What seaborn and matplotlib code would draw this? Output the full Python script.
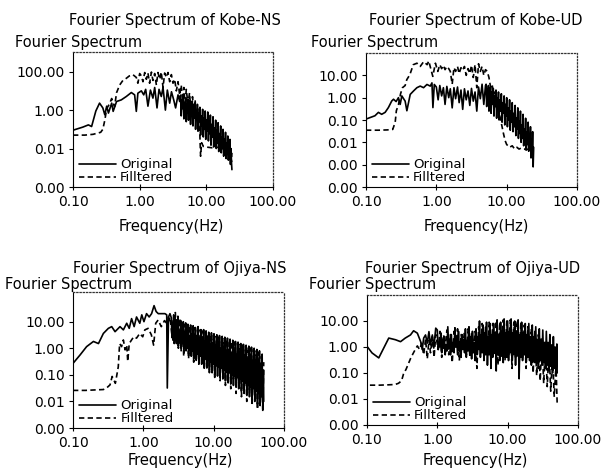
import numpy as np
import pandas as pd
import seaborn as sns
import matplotlib.pyplot as plt
from matplotlib.ticker import FixedLocator, FuncFormatter, NullLocator

sns.set_style('white')
plt.rcParams['font.family'] = ['DejaVu Sans', 'Noto Sans CJK JP']
plt.rcParams['text.color'] = 'black'

# shared high-frequency grid of the Kobe records (Hz)
kobe_f_high = [4.1, 4.2, 4.3, 4.4, 4.5, 4.6, 4.7, 4.8, 4.9, 5.0, 5.1, 5.2, 5.3, 5.4, 5.5, 5.6, 5.7, 5.8,
               5.9, 6.0, 6.15, 6.3, 6.45, 6.6, 6.75, 6.9, 7.05, 7.2, 7.35, 7.5, 7.65, 7.8, 8.0, 8.2,
               8.4, 8.6, 8.8, 9.0, 9.2, 9.4, 9.6, 9.8, 10.0, 10.25, 10.5, 10.75, 11.0, 11.25, 11.5,
               11.75, 12.0, 12.3, 12.6, 12.9, 13.2, 13.5, 13.8, 14.1, 14.4, 14.7, 15.0, 15.35, 15.7,
               16.05, 16.4, 16.75, 17.1, 17.45, 17.8, 18.2, 18.6, 19.0, 19.4, 19.8, 20.2, 20.6, 21.0,
               21.4, 21.8, 22.2, 22.6, 23.0, 23.4, 23.8, 24.2]

# ---- Kobe-NS ----
kobe_ns_f_low = [0.10, 0.14, 0.17, 0.19, 0.22, 0.25, 0.28, 0.30, 0.32, 0.34, 0.38, 0.40, 0.45, 0.53, 0.63,
                 0.75, 0.84, 0.89, 0.94, 1.06, 1.15, 1.23, 1.33, 1.45, 1.58, 1.68, 1.82, 1.95, 2.11, 2.24,
                 2.43, 2.60, 2.82, 3.00, 3.24, 3.46, 3.76, 3.98]
kobe_ns_orig_low = [0.09, 0.13, 0.17, 0.14, 0.9, 2.3, 1.3, 0.57, 1.6, 0.7, 2.3, 0.86, 2.8, 3.4, 5.1,
                    8.2, 6.2, 0.86, 7.6, 10, 6.2, 12, 1.6, 11, 4.2, 15, 1.3, 12, 5.1, 15,
                    1.0, 11, 2.3, 9, 3.4, 1.3, 6.2, 2.8]
kobe_ns_orig_high = [6.0, 0.5, 3.5, 1.2, 5.0, 0.35, 2.5, 0.9, 4.2, 0.25,
                     2.0, 0.7, 3.8, 0.3, 1.6, 0.5, 3.2, 0.18, 1.4, 0.6,
                     3.0, 0.15, 1.2, 0.4, 2.4, 0.1, 0.9, 0.3, 2.0, 0.08, 0.7, 0.25,
                     1.4, 0.05, 0.5, 0.15, 1.1, 0.04, 0.4, 0.1, 0.9, 0.03, 0.3,
                     0.08, 0.8, 0.025, 0.25, 0.06, 0.55, 0.015, 0.18,
                     0.04, 0.45, 0.012, 0.12, 0.03, 0.3, 0.01, 0.09, 0.02, 0.22,
                     0.007, 0.06, 0.015, 0.15, 0.006, 0.04, 0.01, 0.1,
                     0.004, 0.03, 0.008, 0.07, 0.003, 0.02, 0.006, 0.045, 0.0025, 0.015, 0.004, 0.03,
                     0.0015, 0.01, 0.002, 0.0008]
kobe_ns_f_filt = [0.10, 0.15, 0.20, 0.26, 0.28, 0.30, 0.32, 0.35, 0.38, 0.42, 0.45, 0.50, 0.56, 0.63, 0.70,
                  0.79, 0.89, 0.94, 1.00, 1.06, 1.12, 1.19, 1.26, 1.33, 1.41, 1.50, 1.58, 1.68, 1.78, 1.88,
                  2.00, 2.11, 2.24, 2.37, 2.51, 2.66, 2.82, 2.99, 3.16, 3.35, 3.55, 3.76, 3.98,
                  4.2, 4.4, 4.6, 4.8, 5.0, 5.3, 5.6, 5.9, 6.2, 6.5, 6.8, 7.1, 7.4, 7.7, 8.0, 8.2, 8.5, 9.0,
                  10.0, 12.0, 14.0, 16.0, 18.0, 19.0, 20.0, 21.0, 22.0, 22.6, 23.2, 23.8, 24.2]
kobe_ns_filt = [0.05, 0.05, 0.055, 0.07, 0.1, 0.3, 1.2, 2.0, 4.0, 1.5, 8, 20, 35, 45, 60,
                70, 50, 25, 80, 60, 30, 90, 40, 85, 25, 95, 35, 80, 20, 90,
                40, 95, 15, 85, 50, 90, 30, 70, 25, 40, 10, 30, 6,
                20, 3, 15, 1.5, 12, 2, 8, 0.6, 5, 0.9, 3, 0.3, 1.5, 0.2, 0.05, 0.004, 0.02, 0.013,
                0.012, 0.011, 0.012, 0.011, 0.01, 0.008, 0.011, 0.005, 0.01, 0.003, 0.008, 0.002, 0.006]

# ---- Kobe-UD ----
kobe_ud_f_low = [0.100, 0.134, 0.150, 0.167, 0.187, 0.208, 0.232, 0.246, 0.268, 0.289, 0.306, 0.323,
                 0.360, 0.381, 0.425, 0.474, 0.529, 0.590, 0.658, 0.735, 0.820, 0.866, 0.894, 0.935,
                 1.0, 1.06, 1.12, 1.19, 1.26, 1.33, 1.41, 1.5, 1.58, 1.68, 1.78, 1.88, 2.0, 2.11, 2.24,
                 2.37, 2.51, 2.66, 2.82, 2.99, 3.16, 3.35, 3.55, 3.76, 3.98, 4.22, 4.47, 4.73, 5.0]
kobe_ud_orig_low = [0.11, 0.155, 0.22, 0.18, 0.22, 0.36, 0.71, 0.85, 0.67, 1.0, 0.5, 1.2,
                    0.7, 0.26, 1.4, 2.0, 2.8, 3.3, 2.8, 3.9, 3.3, 4.6, 0.36, 3.9,
                    3.0, 0.8, 3.5, 1.2, 2.8, 0.5, 3.2, 1.0, 2.5, 0.35, 2.8, 0.9, 3.0, 0.6, 2.2,
                    0.3, 2.5, 0.8, 2.0, 0.45, 2.6, 0.7, 1.8, 0.25, 3.0, 0.9, 4.0, 0.5, 3.5]
kobe_ud_orig_high = [4.0, 0.4, 2.5, 0.8, 3.5, 0.25, 1.5, 0.6, 3.0, 0.2,
                     1.8, 0.5, 2.6, 0.15, 1.2, 0.4, 2.2, 0.12, 1.0, 0.3, 1.8, 0.1,
                     0.8, 0.25, 1.5, 0.08, 0.6, 0.2, 1.2, 0.06, 0.5, 0.15, 1.0,
                     0.05, 0.35, 0.1, 0.8, 0.035, 0.25, 0.08, 0.6,
                     0.03, 0.2, 0.05, 0.45, 0.02, 0.12, 0.04, 0.35, 0.015, 0.09,
                     0.025, 0.25, 0.01, 0.06, 0.015, 0.18, 0.007, 0.04,
                     0.012, 0.12, 0.005, 0.03, 0.008, 0.08, 0.004, 0.02, 0.006, 0.05, 0.002, 0.012,
                     0.004, 0.03, 0.0008, 0.006]
kobe_ud_f_filt = [0.10, 0.15, 0.20, 0.24, 0.26, 0.27, 0.29, 0.31, 0.33, 0.36, 0.38, 0.42, 0.47, 0.53, 0.59,
                  0.66, 0.74, 0.78, 0.84, 0.89, 0.97, 1.05, 1.12, 1.19, 1.26, 1.33, 1.41, 1.50, 1.58, 1.68,
                  1.78, 1.88, 2.00, 2.11, 2.24, 2.37, 2.51, 2.66, 2.82, 2.99, 3.16, 3.35, 3.55, 3.76, 3.98,
                  4.22, 4.47, 4.73, 5.0, 5.3, 5.6, 5.9, 6.2, 6.5, 6.8, 7.1, 7.5, 8.0, 8.5, 9.0,
                  9.5, 10, 11, 12, 13, 14, 15, 16, 17, 18, 19, 20, 21, 22, 23, 24]
kobe_ud_filt = [0.035, 0.035, 0.036, 0.038, 0.08, 0.26, 0.5, 1.5, 2.8, 3.5, 6.4, 10.7, 30, 35, 25,
                41, 30, 44, 18, 9, 35, 15, 30, 20, 28, 18, 25, 20, 15, 4,
                22, 15, 25, 12, 22, 17, 25, 10, 20, 12, 28, 8, 30, 2.8, 33,
                15, 25, 10, 18, 15, 8, 3, 4, 1.5, 1.8, 0.8, 0.35, 0.15, 0.06, 0.025,
                0.012, 0.008, 0.006, 0.007, 0.005, 0.006, 0.005, 0.0055, 0.005, 0.005, 0.0045, 0.005,
                0.0045, 0.004, 0.0045, 0.004]

# ---- Ojiya-NS ----
ojiya_ns_f_orig = [0.10, 0.126, 0.156, 0.195, 0.23, 0.27, 0.318, 0.355, 0.396, 0.44, 0.466, 0.52, 0.58,
                   0.63, 0.68, 0.74, 0.80, 0.89, 0.95, 1.02, 1.11, 1.21, 1.31, 1.42, 1.52, 1.63, 1.82,
                   2.03, 2.15, 2.19, 2.28, 2.39]
ojiya_ns_orig = [0.27, 0.56, 1.15, 1.8, 1.5, 3.6, 5.6, 6.5, 4.2, 5.6, 6.5, 4.9, 8.7,
                 5.6, 13, 6.5, 15, 8.7, 18, 10, 20, 15, 20, 40, 24, 20, 20,
                 20, 18, 0.032, 15, 20]
ojiya_ns_f_filt = [0.10, 0.15, 0.20, 0.27, 0.30, 0.336, 0.36, 0.40, 0.44, 0.46, 0.49, 0.52, 0.55, 0.58,
                   0.60, 0.63, 0.68, 0.73, 0.80, 0.89, 0.98, 1.05, 1.17, 1.30, 1.40, 1.50, 1.62, 1.80,
                   2.0, 2.2, 2.4]
ojiya_ns_filt = [0.026, 0.026, 0.027, 0.028, 0.032, 0.042, 0.087, 0.048, 0.2, 1.5, 1.15, 2.05, 0.87, 1.3,
                 0.32, 1.5, 2.05, 2.7, 2.4, 3.6, 2.7, 4.9, 5.6, 3.2, 1.3, 8.7, 11.5, 6.5,
                 11, 8, 15]
ojiya_ns_f_high_a = [2.5, 2.6, 2.7, 2.8, 2.9, 3.0, 3.1, 3.2, 3.4, 3.5, 3.7, 3.8, 4.0, 4.1, 4.3, 4.5, 4.7,
                     4.9, 5.1, 5.3, 5.5, 5.8, 6.0, 6.3, 6.6, 6.9, 7.2, 7.5, 7.8, 8.2, 8.5, 8.9, 9.3, 9.7,
                     10.1, 10.6, 11.1, 11.6, 12.1, 12.6, 13.2, 13.8, 14.4, 15.0, 15.7, 16.4, 17.1, 17.9,
                     18.7, 19.5, 20.4, 21.3, 22.2, 23.2, 24.3, 25.4, 26.5, 27.7, 28.9, 30.2, 31.6, 33.0,
                     34.5, 36.0, 37.6, 39.3, 41.1, 42.9, 44.8, 46.8, 48.9, 51.0]
ojiya_ns_f_high_b = [2.55, 2.65, 2.75, 2.85, 2.95, 3.05, 3.15, 3.3, 3.45, 3.6, 3.75, 3.9, 4.05, 4.2,
                     4.4, 4.6, 4.8, 5.0, 5.2, 5.4, 5.65, 5.9, 6.15, 6.45, 6.75, 7.05, 7.35, 7.65,
                     8.0, 8.35, 8.7, 9.1, 9.5, 9.9, 10.35, 10.85, 11.35, 11.85, 12.35, 12.9, 13.5,
                     14.1, 14.7, 15.35, 16.05, 16.75, 17.5, 18.3, 19.1, 19.95, 20.85, 21.75, 22.7,
                     23.75, 24.85, 25.95, 27.1, 28.3, 29.55, 30.9, 32.3, 33.75, 35.25, 36.8, 38.45,
                     40.2, 42.0, 43.85, 45.8, 47.85, 49.95, 51.5]
ojiya_ns_orig_high_a = [14, 6, 18, 5, 12, 7, 16, 4, 11, 5,
                        10, 3.5, 9, 4, 8, 3, 7.5, 3.5, 7, 2.5,
                        6, 3, 6.5, 2, 5, 2.5, 5, 1.8, 4.5, 2,
                        4, 1.5, 3.8, 1.6, 3.5, 1.2, 3.2, 1.4, 3, 1.0,
                        2.8, 1.1, 2.6, 0.8, 2.4, 0.9, 2.2, 0.7, 2, 0.8,
                        1.8, 0.6, 1.7, 0.7, 1.5, 0.5, 1.4, 0.55, 1.3, 0.4,
                        1.2, 0.45, 1.1, 0.35, 1.0, 0.35, 0.9, 0.25, 0.8, 0.25,
                        0.6, 0.15]
ojiya_ns_orig_high_b = [2.5, 2.0, 1.8, 2.2, 1.5, 2.0, 1.2, 1.6, 1.0, 1.5,
                        0.9, 1.2, 0.8, 1.0, 0.6, 0.9, 0.5, 0.8, 0.4, 0.7,
                        0.35, 0.6, 0.3, 0.5, 0.25, 0.45, 0.2, 0.4, 0.18, 0.35,
                        0.15, 0.3, 0.12, 0.25, 0.1, 0.22, 0.09, 0.2, 0.08, 0.18,
                        0.07, 0.15, 0.06, 0.13, 0.05, 0.12, 0.045, 0.1, 0.04, 0.09,
                        0.035, 0.08, 0.03, 0.07, 0.025, 0.06, 0.02, 0.05, 0.018, 0.04,
                        0.015, 0.035, 0.012, 0.03, 0.01, 0.025, 0.008, 0.02, 0.007, 0.015,
                        0.005, 0.01]
ojiya_ns_filt_high = [3, 12, 1.5, 22, 2, 10, 1, 13, 0.8, 9, 0.5, 8, 1, 8, 0.4, 7, 0.8,
                      6, 0.3, 6, 0.6, 5, 0.25, 5, 0.5, 4.5, 0.15, 4, 0.3, 3.5, 0.12, 3.3, 0.25, 3,
                      0.08, 2.8, 0.2, 2.6, 0.06, 2.5, 0.12, 2.3, 0.04, 2.1, 0.1, 2, 0.03, 1.8,
                      0.07, 1.7, 0.02, 1.5, 0.05, 1.4, 0.015, 1.3, 0.03, 1.2, 0.01, 1.1, 0.02, 1.0,
                      0.007, 0.9, 0.015, 0.8, 0.005, 0.7, 0.01, 0.5, 0.004, 0.3]

# ---- Ojiya-UD ----
ojiya_ud_f_orig = [0.100, 0.118, 0.147, 0.173, 0.204, 0.254, 0.30, 0.35, 0.415, 0.46, 0.52, 0.58, 0.61,
                   0.64, 0.68, 0.72, 0.76, 0.80, 0.85, 0.89, 0.95]
ojiya_ud_orig = [1.06, 0.59, 0.38, 0.91, 2.2, 1.9, 1.6, 2.2, 2.9, 4.2, 3.4, 1.6, 0.8,
                 2.2, 2.9, 1.4, 3.9, 1.2, 2.9, 0.91, 5.3]
ojiya_ud_f_filt = [0.11, 0.15, 0.20, 0.25, 0.28, 0.31, 0.33, 0.36, 0.42, 0.47, 0.52, 0.56, 0.60, 0.64,
                   0.68, 0.72, 0.76, 0.80, 0.85, 0.90, 0.95]
ojiya_ud_filt = [0.034, 0.034, 0.035, 0.036, 0.04, 0.05, 0.09, 0.14, 0.38, 0.68, 1.1, 0.8, 1.4, 0.5,
                 2, 0.35, 1.8, 0.6, 2.5, 0.4, 3]
ojiya_ud_f_high_a = [1.00, 1.06, 1.12, 1.19, 1.26, 1.33, 1.41, 1.50, 1.58, 1.68, 1.78, 1.88, 2.00, 2.11,
                     2.24, 2.37, 2.51, 2.66, 2.82, 2.99, 3.16, 3.35, 3.55, 3.76, 3.98, 4.22, 4.47, 4.73,
                     5.01, 5.31, 5.62, 5.96, 6.31, 6.68, 7.08, 7.50, 7.94, 8.41, 8.91, 9.44, 10.0, 10.6,
                     11.2, 11.9, 12.6, 13.3, 14.1, 15.0, 15.8, 16.8, 17.8, 18.8, 20.0, 21.1, 22.4, 23.7,
                     25.1, 26.6, 28.2, 29.9, 31.6, 33.5, 35.5, 37.6, 39.8, 42.2, 44.7, 47.3, 50.1]
ojiya_ud_f_high_b = [1.03, 1.09, 1.155, 1.225, 1.295, 1.37, 1.455, 1.54, 1.63, 1.73, 1.83, 1.94,
                     2.055, 2.175, 2.305, 2.44, 2.585, 2.74, 2.905, 3.075, 3.255, 3.45, 3.655, 3.87,
                     4.1, 4.345, 4.6, 4.87, 5.16, 5.465, 5.79, 6.135, 6.495, 6.88, 7.29, 7.72, 8.175,
                     8.66, 9.175, 9.72, 10.3, 10.9, 11.55, 12.25, 12.95, 13.7, 14.55, 15.4, 16.3,
                     17.3, 18.3, 19.4, 20.55, 21.75, 23.05, 24.4, 25.85, 27.4, 29.05, 30.75, 32.55,
                     34.5, 36.55, 38.7, 41.0, 43.45, 46.0, 48.7, 50.6]
ojiya_ud_orig_high_a = [4.5, 1.5, 3.5, 2.0, 2.5, 1.2, 6, 2.0, 3, 1.5,
                        5.5, 2.5, 4, 1.6, 3, 2, 5, 1.8, 6, 2.5,
                        4, 1.5, 5, 2.5, 10, 3, 7, 3.5, 9, 2.5,
                        8, 3, 8, 3.5, 11, 3, 9, 4, 12, 3.5,
                        10, 4, 12, 3.5, 10, 4, 11, 3, 9, 3.5,
                        8, 3, 8, 2.5, 7, 2.5, 6, 2, 5, 2,
                        4.5, 1.5, 4, 1.5, 3, 1.2, 2.5, 1.0, 1.3]
ojiya_ud_orig_high_b = [0.8, 1.0, 0.6, 0.9, 0.5, 0.7, 0.9, 0.5, 0.8, 0.6,
                        1.0, 0.5, 0.7, 0.4, 0.8, 0.6, 0.4, 0.7, 0.5, 0.35,
                        0.6, 0.3, 0.5, 0.8, 0.4, 0.6, 0.3, 0.5, 0.2, 0.5,
                        0.15, 0.4, 0.6, 0.12, 0.5, 0.3, 0.6, 0.25, 0.5, 0.4,
                        0.3, 0.6, 0.35, 0.5, 0.2, 0.45, 0.06, 0.4, 0.3, 0.5,
                        0.25, 0.4, 0.3, 0.2, 0.35, 0.25, 0.3, 0.15, 0.3, 0.2,
                        0.25, 0.15, 0.2, 0.12, 0.18, 0.1, 0.15, 0.08, 0.1]
ojiya_ud_filt_high = [0.8, 4, 0.4, 3, 1.0, 4.5, 0.5, 3, 0.25, 4, 1.0, 5, 0.3, 3,
                      1.2, 4, 0.5, 5, 0.4, 3.5, 1.0, 4, 0.15, 6, 0.7, 8, 0.4, 7,
                      0.6, 9, 0.3, 8, 0.5, 10, 0.2, 9, 0.4, 11, 0.3, 10, 0.5, 11,
                      0.15, 9, 0.4, 10, 0.2, 8, 0.4, 7, 0.15, 6, 0.3, 5, 0.1, 4,
                      0.08, 3, 0.05, 2, 0.04, 1.5, 0.03, 0.8, 0.02, 0.5, 0.012, 0.2, 0.007]

x_ticks = [0.1, 1, 10, 100]

panels = [
    dict(name='Kobe-NS', rect=[0.1201, 0.6063, 0.3289, 0.2842], ylim=(1e-4, 1.05e3),
         yticks=[1e-4, 1e-2, 1, 100],
         orig=(kobe_ns_f_low + kobe_f_high, kobe_ns_orig_low + kobe_ns_orig_high),
         filt=(kobe_ns_f_filt, kobe_ns_filt),
         title_xy=(175, 21), ylab_xy=(15, 42), xlab_xy=(171, 226)),
    dict(name='Kobe-UD', rect=[0.6020, 0.6063, 0.3470, 0.2821], ylim=(1e-4, 1e2),
         yticks=[1e-4, 1e-3, 1e-2, 0.1, 1, 10],
         orig=(kobe_ud_f_low + kobe_f_high[10:], kobe_ud_orig_low + kobe_ud_orig_high),
         filt=(kobe_ud_f_filt, kobe_ud_filt),
         title_xy=(476, 21), ylab_xy=(311, 42), xlab_xy=(476, 226)),
    dict(name='Ojiya-NS', rect=[0.1201, 0.0989, 0.3470, 0.2863], ylim=(1e-3, 1.3e2),
         yticks=[1e-3, 1e-2, 0.1, 1, 10],
         orig=(ojiya_ns_f_orig + ojiya_ns_f_high_a + ojiya_ns_f_high_b,
               ojiya_ns_orig + ojiya_ns_orig_high_a + ojiya_ns_orig_high_b),
         filt=(ojiya_ns_f_filt + ojiya_ns_f_high_b, ojiya_ns_filt + ojiya_ns_filt_high),
         title_xy=(180, 269), ylab_xy=(5, 284), xlab_xy=(180, 461)),
    dict(name='Ojiya-UD', rect=[0.6036, 0.1053, 0.3470, 0.2737], ylim=(1e-3, 1e2),
         yticks=[1e-3, 1e-2, 0.1, 1, 10],
         orig=(ojiya_ud_f_orig + ojiya_ud_f_high_a + ojiya_ud_f_high_b,
               ojiya_ud_orig + ojiya_ud_orig_high_a + ojiya_ud_orig_high_b),
         filt=(ojiya_ud_f_filt + ojiya_ud_f_high_b, ojiya_ud_filt + ojiya_ud_filt_high),
         title_xy=(473, 269), ylab_xy=(309, 284), xlab_xy=(475, 461)),
]

W, H = 608, 475
fig = plt.figure(figsize=(W / 100, H / 100), dpi=100)
fmt = FuncFormatter(lambda v, p: '%.2f' % v)

for p in panels:
    ax = fig.add_axes(p['rect'])
    df_o = pd.DataFrame({'freq': p['orig'][0], 'amp': p['orig'][1]})
    df_f = pd.DataFrame({'freq': p['filt'][0], 'amp': p['filt'][1]})
    sns.lineplot(data=df_o, x='freq', y='amp', ax=ax, color='black', lw=1.2,
                 estimator=None, sort=True, label='Original')
    sns.lineplot(data=df_f, x='freq', y='amp', ax=ax, color='black', lw=1.2,
                 linestyle=(0, (3.2, 2.0)), estimator=None, sort=True, label='Filltered')
    ax.set_xscale('log')
    ax.set_yscale('log')
    ax.set_xlim(0.1, 100)
    ax.set_ylim(*p['ylim'])
    ax.xaxis.set_major_locator(FixedLocator(x_ticks))
    ax.yaxis.set_major_locator(FixedLocator(p['yticks']))
    ax.xaxis.set_minor_locator(NullLocator())
    ax.yaxis.set_minor_locator(NullLocator())
    ax.xaxis.set_major_formatter(fmt)
    ax.yaxis.set_major_formatter(fmt)
    ax.set_xlabel('')
    ax.set_ylabel('')
    ax.tick_params(axis='y', left=True, direction='out', length=3, width=0.8,
                   pad=3, labelsize=10, colors='black')
    ax.tick_params(axis='x', bottom=True, direction='inout', length=4, width=0.8,
                   pad=4, labelsize=10, colors='black')
    for side in ['left', 'bottom']:
        ax.spines[side].set_color('black')
        ax.spines[side].set_linewidth(0.8)
    for side in ['top', 'right']:
        ax.spines[side].set_color('#333333')
        ax.spines[side].set_linewidth(0.9)
        ax.spines[side].set_linestyle((0, (1, 1.6)))
    ax.legend(loc='lower left', bbox_to_anchor=(0.03, 0.02), frameon=False, fontsize=9.5,
              handlelength=2.8, handletextpad=0.3, labelspacing=0.0, borderaxespad=0,
              borderpad=0)

    tx, ty = p['title_xy']
    fig.text(tx / W, 1 - ty / H, 'Fourier Spectrum of ' + p['name'], ha='center', va='center',
             fontsize=10.5)
    lx, ly = p['ylab_xy']
    fig.text(lx / W, 1 - ly / H, 'Fourier Spectrum', ha='left', va='center', fontsize=10.5)
    xx, xy = p['xlab_xy']
    fig.text(xx / W, 1 - xy / H, 'Frequency(Hz)', ha='center', va='center', fontsize=10.5)

fig.savefig('out.png', dpi=100)
